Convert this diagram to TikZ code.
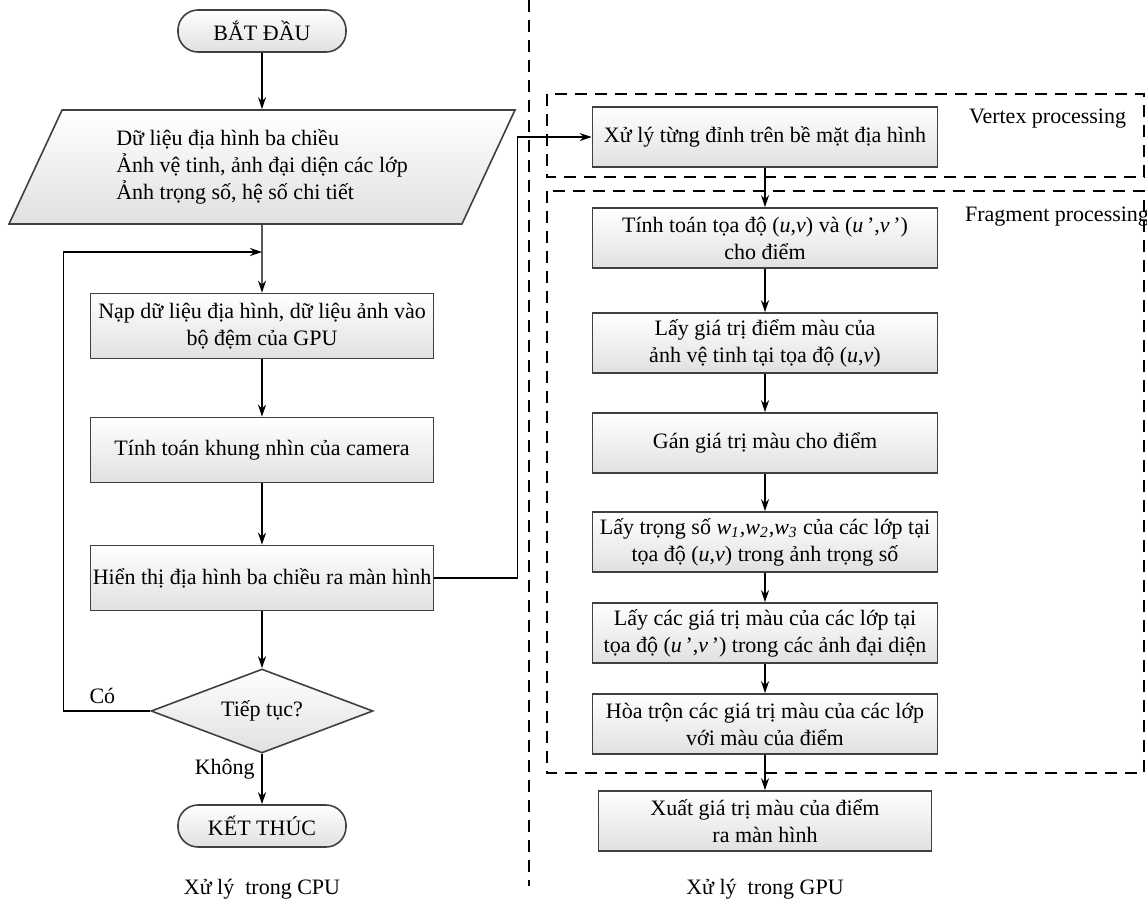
\documentclass[tikz,border=0pt]{standalone}
\usepackage{fontspec}
\setmainfont{Liberation Serif}
\usetikzlibrary{shapes.geometric,arrows.meta}

\begin{document}
\begin{tikzpicture}[x=0.5pt, y=-0.5pt, >={Stealth[length=6pt,width=4pt]},
    font=\fontsize{11}{13.5}\selectfont,
    khoi/.style={draw=black!75, line width=0.8pt, top color=white,
      bottom color=black!12, align=center, inner sep=1pt},
    hop/.style={khoi, minimum width=171.5pt, minimum height=32.5pt},
    hopgpu/.style={khoi, minimum width=172.5pt, minimum height=30pt},
    batdau/.style={khoi, rounded corners=10pt, minimum width=84pt, minimum height=21pt},
    dulieu/.style={khoi, trapezium, trapezium left angle=56, trapezium right angle=124,
      trapezium stretches body, minimum width=253pt, minimum height=57pt, align=left},
    quyetdinh/.style={khoi, diamond, aspect=2.6, minimum width=111pt,
      minimum height=42pt, inner sep=0pt},
    muiten/.style={->, line width=0.6pt},
    vung/.style={line width=0.8pt, dash pattern=on 6pt off 4pt}]

    \useasboundingbox (0,0) rectangle (1147,906);

    % ==================================================
    % Xử lý trong CPU
    % ==================================================

    % đường phân cách CPU / GPU
    \draw[vung] (529,0) -- (529,886);

    % các khối
    \node[batdau] (batdau) at (262,31) {BẮT ĐẦU};
    \node[dulieu] (dulieu) at (262,167)
      {Dữ liệu địa hình ba chiều\\Ảnh vệ tinh, ảnh đại diện các lớp\\Ảnh trọng số, hệ số chi tiết};
    \coordinate (noi) at (262,252);
    \node[hop] (nap) at (262,326) {Nạp dữ liệu địa hình, dữ liệu ảnh vào\\bộ đệm của GPU};
    \node[hop] (camera) at (262,450) {Tính toán khung nhìn của camera};
    \node[hop] (hienthi) at (262,578) {Hiển thị địa hình ba chiều ra màn hình};
    \node[quyetdinh] (tieptuc) at (262,711) {Tiếp tục?};
    \node[batdau] (ketthuc) at (262,826) {KẾT THÚC};

    % nhãn cột
    \node (nhancpu) at (262,889) {Xử lý~ trong CPU};

    % mũi tên
    \draw[muiten] (batdau) -- (dulieu);
    \draw[muiten] (dulieu) -- (nap);
    \draw[muiten] (nap) -- (camera);
    \draw[muiten] (camera) -- (hienthi);
    \draw[muiten] (hienthi) -- (tieptuc);
    \draw[muiten] (tieptuc) -- node[left, pos=0.3] (nhankhong) {Không} (ketthuc);

    % vòng lặp (Có)
    \draw[muiten] (tieptuc.west) -- node[above, pos=0.55] (nhanco) {Có} ++(-87,0) |- (noi);

    % ==================================================
    % Xử lý trong GPU
    % ==================================================

    % vùng xử lý
    \draw[vung] (547,94) rectangle (1144,177);
    \draw[vung] (547,191) rectangle (1144,773);
    \node[anchor=west] (nhanvertex) at (962,119) {Vertex processing};
    \node[anchor=west] (nhanfragment) at (958,217) {Fragment processing};

    % các khối
    \node[hopgpu] (dinh) at (765,137) {Xử lý từng đỉnh trên bề mặt địa hình};
    \node[hopgpu] (toado) at (765,238)
      {Tính toán tọa độ (\textit{u},\textit{v}) và (\textit{u}\,',\textit{v}\,')\\cho điểm};
    \node[hopgpu] (mau) at (765,343)
      {Lấy giá trị điểm màu của\\ảnh vệ tinh tại tọa độ (\textit{u},\textit{v})};
    \node[hopgpu] (gan) at (765,443) {Gán giá trị màu cho điểm};
    \node[hopgpu] (trongso) at (765,542)
      {Lấy trọng số \textit{w\textsubscript{1},w\textsubscript{2},w\textsubscript{3}} của các lớp tại\\tọa độ (\textit{u},\textit{v}) trong ảnh trọng số};
    \node[hopgpu] (daidien) at (765,633)
      {Lấy các giá trị màu của các lớp tại\\tọa độ (\textit{u}\,',\textit{v}\,') trong các ảnh đại diện};
    \node[hopgpu] (hoatron) at (765,724)
      {Hòa trộn các giá trị màu của các lớp\\với màu của điểm};
    \node[hopgpu, minimum width=166.5pt] (xuat) at (765,821)
      {Xuất giá trị màu của điểm\\ra màn hình};

    % nhãn cột
    \node (nhangpu) at (765,889) {Xử lý~ trong GPU};

    % mũi tên
    \draw[muiten] (hienthi.east) -- ++(83,0) |- (dinh.west);
    \draw[muiten] (dinh) -- (toado);
    \draw[muiten] (toado) -- (mau);
    \draw[muiten] (mau) -- (gan);
    \draw[muiten] (gan) -- (trongso);
    \draw[muiten] (trongso) -- (daidien);
    \draw[muiten] (daidien) -- (hoatron);
    \draw[muiten] (hoatron) -- (xuat);

  \end{tikzpicture}
\end{document}
